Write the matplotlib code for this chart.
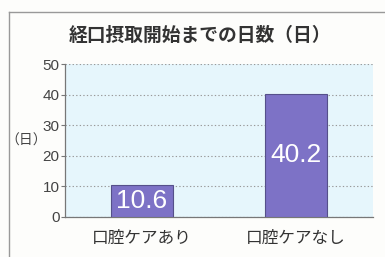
import matplotlib
matplotlib.use("Agg")
import matplotlib.pyplot as plt
from matplotlib.lines import Line2D

# data
categories = ["口腔ケアあり", "口腔ケアなし"]
days = [10.6, 40.2]
yticks = [0, 10, 20, 30, 40, 50]
title = "経口摂取開始までの日数（日）"

plt.rcParams['font.family'] = ['Noto Sans CJK JP', 'DejaVu Sans']

fig = plt.figure(figsize=(3.85, 2.57), dpi=100)
fig.patch.set_facecolor('#fdfdfb')

ax = fig.add_axes([65/385, 40/257, 308/385, 153/257])
ax.set_facecolor('#e6f6fc')

x = range(len(categories))
ax.bar(x, days, width=0.4, color='#7d72c6', edgecolor='#55508a', linewidth=0.8, zorder=3)

# value labels in the middle of each bar
for i, v in enumerate(days):
    ax.text(i, v / 2, f"{v}", ha='center', va='center', color='white',
            fontsize=19, family=['Liberation Sans', 'DejaVu Sans'], zorder=4)

ax.set_xlim(-0.5, 1.5)
ax.set_ylim(0, 50)
ax.set_yticks(yticks)
ax.set_xticks(list(x))
ax.set_xticklabels(categories, fontsize=12, color='#333333')
ax.tick_params(axis='x', length=0, pad=9)
ax.tick_params(axis='y', length=3, width=0.8, color='#777777', labelsize=11,
               labelcolor='#444444', pad=1)
for lbl in ax.get_yticklabels():
    lbl.set_family(['Liberation Sans', 'DejaVu Sans'])

# dotted grid lines
ax.yaxis.grid(True, linestyle=(0, (1.2, 2)), color='#999999', linewidth=0.8, zorder=1)
ax.set_axisbelow(True)

for s in ['top', 'right']:
    ax.spines[s].set_visible(False)
for s in ['left', 'bottom']:
    ax.spines[s].set_color('#777777')
    ax.spines[s].set_linewidth(0.9)

# title and unit label
fig.text(200/385, 1 - 35/257, title, ha='center', va='center', fontsize=13.5,
         fontweight='bold', color='#333333')
fig.text(26/385, 1 - 141/257, "（日）", ha='center', va='center', fontsize=10,
         color='#444444')

# frame lines around the panel
fig.add_artist(Line2D([9/385, 9/385], [0, 1 - 12/257], color='#999999', linewidth=1))
fig.add_artist(Line2D([9/385, 1], [1 - 12/257, 1 - 12/257], color='#999999', linewidth=1))

fig.savefig("out.png", dpi=100, facecolor=fig.get_facecolor())
